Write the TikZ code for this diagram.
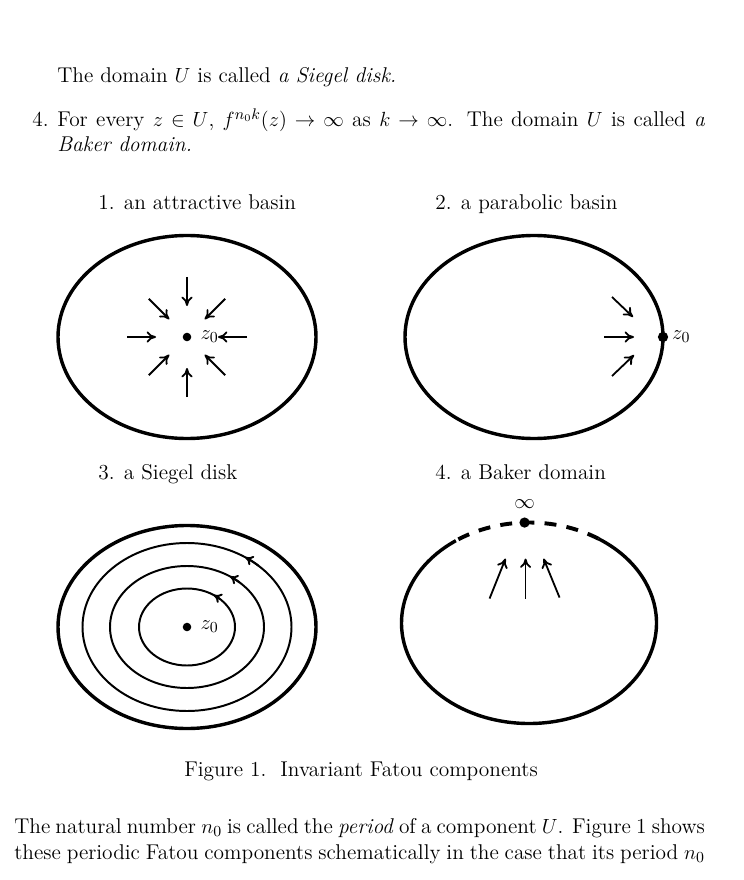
\documentclass[tikz,border=0pt,12pt]{standalone}
\usetikzlibrary{arrows.meta, calc, positioning}

\begin{document}
\begin{tikzpicture}[
    x=0.585pt, y=0.585pt,
    txt/.style={anchor=base west, inner sep=0pt, font=\fontsize{12.5}{15}\selectfont},
    basin/.style={line width=2pt},
    ring/.style={line width=1.15pt},
    flow/.style={-{To[length=5.5pt, width=6.5pt]}, line width=1.05pt},
    spin/.style={-{To[length=4.5pt, width=6pt]}, line width=1.15pt},
    dot/.style={circle, fill, inner sep=0pt, minimum size=5pt},
    zlab/.style={inner sep=0pt, font=\fontsize{12.5}{15}\selectfont}
]

\useasboundingbox (0,0) rectangle (743,-880);

% Text above the figure
\node[txt] (siegtxt) at (57,-83) {The domain $U$ is called \emph{a Siegel disk.}};
\node[txt] (item) at (32,-127) {4.};
\node[txt] (line1) at (57,-127) {\makebox[379pt][s]{For every $z\in U$,\ $f^{n_0k}(z)\to\infty$ as $k\to\infty$. The domain $U$ is called \emph{a}}};
\node[txt] (line2) at (57,-152) {\emph{Baker domain.}};

% Titles
\node[txt] (t1) at (98,-210) {1. an attractive basin};
\node[txt] (t2) at (435,-210) {2. a parabolic basin};
\node[txt] (t3) at (98,-479) {3. a Siegel disk};
\node[txt] (t4) at (435,-479) {4. a Baker domain};

% 1. attractive basin
\coordinate (attr) at (187,-337);
\draw[basin] (attr) ellipse [x radius=129, y radius=101.5];
\node[dot] (a0) at (attr) {};
\node[zlab, right=5pt of a0] (a0lab) {$z_0$};
\foreach \a in {0,90,180,270}
    \draw[flow] ($(attr)+(\a:60)$) -- ($(attr)+(\a:31)$);
\foreach \a in {45,135,225,315}
    \draw[flow] ($(attr)+(\a:54)$) -- ($(attr)+(\a:25)$);

% 2. parabolic basin
\coordinate (para) at (534,-337);
\draw[basin] (para) ellipse [x radius=129, y radius=101.5];
\node[dot, minimum size=6pt] (p0) at ($(para)+(129,0)$) {};
\node[zlab, right=2pt of p0] (p0lab) {$z_0$};
\draw[flow] ($(p0)+(-51,40)$) -- ($(p0)+(-30,20)$);
\draw[flow] ($(p0)+(-59,0)$) -- ($(p0)+(-29,0)$);
\draw[flow] ($(p0)+(-51,-39)$) -- ($(p0)+(-29,-18)$);

% 3. Siegel disk
\coordinate (sieg) at (187,-627);
\draw[basin] (sieg) ellipse [x radius=129, y radius=101.5];
\foreach \rx/\ry in {104.5/84, 77/61, 48/38.5} {
    \draw[ring] (sieg) ellipse [x radius=\rx, y radius=\ry];
    \draw[spin] ($(sieg)+(47:{\rx} and {\ry})$) arc [start angle=47, end angle=56, x radius=\rx, y radius=\ry];
}
\node[dot] (s0) at (sieg) {};
\node[zlab, right=5pt of s0] (s0lab) {$z_0$};

% 4. Baker domain
\coordinate (bake) at (529,-623);
\draw[basin] ($(bake)+(125:127.5 and 100.5)$) arc [start angle=125, end angle=417, x radius=127.5, y radius=100.5];
\draw[basin, line width=2.3pt, dash pattern=on 7pt off 6pt] ($(bake)+(57:127.5 and 100.5)$) arc [start angle=57, end angle=125, x radius=127.5, y radius=100.5];
\node[dot, minimum size=6pt] (inf) at ($(bake)+(92:127.5 and 100.5)$) {};
\node[zlab, above=5pt of inf] (inflab) {$\infty$};
\draw[flow] ($(inf)+(-35,-76)$) -- ($(inf)+(-19,-36)$);
\draw[flow] ($(inf)+(1,-76)$) -- ($(inf)+(1,-36)$);
\draw[flow] ($(inf)+(35,-75)$) -- ($(inf)+(19,-36)$);

% Caption and text below
\node[txt, anchor=base] (cap) at (361,-776) {Figure 1.\ \ Invariant Fatou components};
\node[txt] (par1) at (14,-833) {\makebox[404pt][s]{The natural number $n_0$ is called the \emph{period} of a component $U$. Figure 1 shows}};
\node[txt] (par2) at (14,-859) {\makebox[404pt][s]{these periodic Fatou components schematically in the case that its period $n_0$}};

\end{tikzpicture}
\end{document}
